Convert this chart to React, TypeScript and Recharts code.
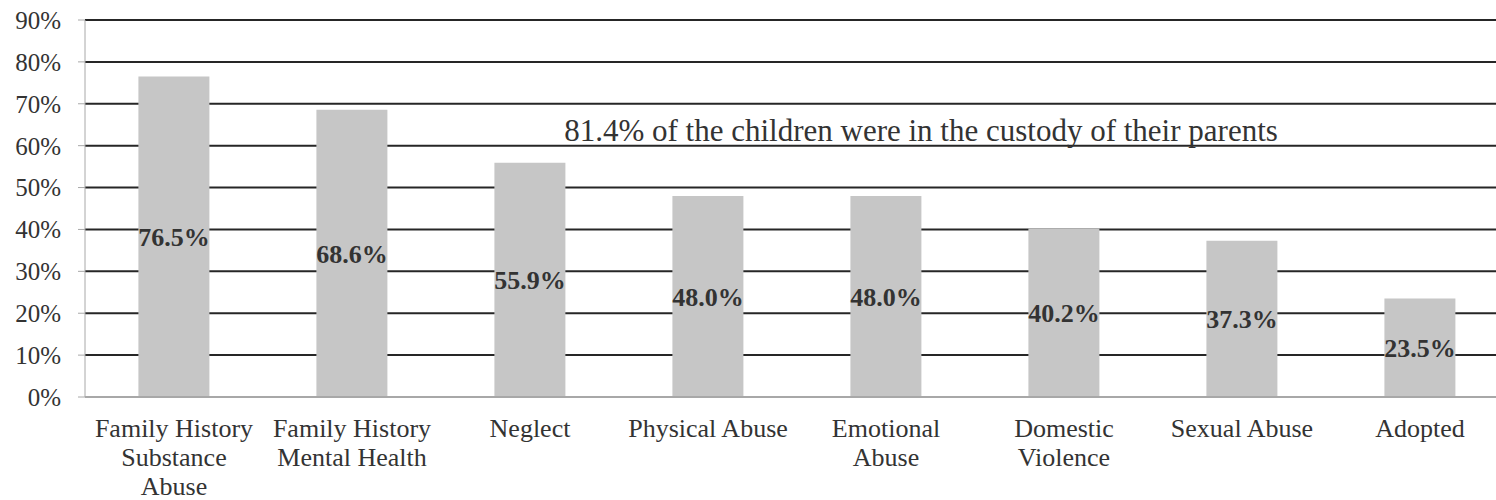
import React from "react";
import { BarChart, Bar, XAxis, YAxis, CartesianGrid, LabelList } from "recharts";

const categories = [
  "Family History\nSubstance\nAbuse",
  "Family History\nMental Health",
  "Neglect",
  "Physical Abuse",
  "Emotional\nAbuse",
  "Domestic\nViolence",
  "Sexual Abuse",
  "Adopted",
];
const values = [76.5, 68.6, 55.9, 48.0, 48.0, 40.2, 37.3, 23.5];
const yTicks = [0, 10, 20, 30, 40, 50, 60, 70, 80, 90];
const annotation = "81.4% of the children were in the custody of their parents";

const data = categories.map((c, i) => ({ name: c, value: values[i] }));

const FONT = "'Liberation Serif', 'Times New Roman', serif";
const TEXT = "#333333";

const CategoryTick = (props: any) => {
  const { x, y, payload } = props;
  const lines = String(payload.value).split("\n");
  return (
    <text x={x} y={y} textAnchor="middle" fill={TEXT} fontFamily={FONT} fontSize={26}>
      {lines.map((l, i) => (
        <tspan key={i} x={x} dy={i === 0 ? 40 : 29}>
          {l}
        </tspan>
      ))}
    </text>
  );
};

export default function App() {
  return (
    <div
      style={{
        position: "fixed",
        left: 0,
        top: 0,
        width: 1496,
        height: 500,
        overflow: "hidden",
        background: "#ffffff",
      }}
    >
      <BarChart
        width={1514}
        height={500}
        data={data}
        margin={{ top: 20, right: 5, left: 0, bottom: 0 }}
        barCategoryGap="30%"
      >
        <CartesianGrid vertical={false} stroke="#262626" strokeWidth={2} />
        <XAxis
          dataKey="name"
          interval={0}
          height={103}
          tickLine={false}
          tickSize={0}
          tickMargin={0}
          axisLine={{ stroke: "#a8a8a8", strokeWidth: 2 }}
          tick={<CategoryTick />}
        />
        <YAxis
          width={85}
          domain={[0, 90]}
          ticks={yTicks}
          interval={0}
          tickSize={7}
          tickMargin={17}
          axisLine={{ stroke: "#a8a8a8", strokeWidth: 1 }}
          tickLine={{ stroke: "#a8a8a8" }}
          tickFormatter={(v: number) => `${v}%`}
          tick={{ fill: TEXT, fontFamily: FONT, fontSize: 25 }}
        />
        <Bar dataKey="value" fill="#c6c6c6" isAnimationActive={false}>
          <LabelList
            dataKey="value"
            position="center"
            formatter={(v: any) => `${Number(v).toFixed(1)}%`}
            fill={TEXT}
            fontFamily={FONT}
            fontSize={26}
            fontWeight="bold"
          />
        </Bar>
      </BarChart>
      <div
        style={{
          position: "absolute",
          left: 921,
          top: 130,
          transform: "translate(-50%, -50%)",
          whiteSpace: "nowrap",
          fontFamily: FONT,
          fontSize: 31,
          color: TEXT,
          lineHeight: 1,
        }}
      >
        {annotation}
      </div>
    </div>
  );
}
